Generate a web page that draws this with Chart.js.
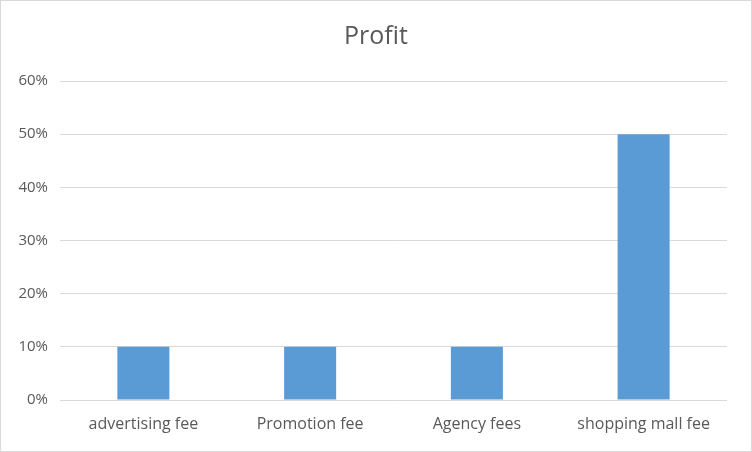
<!DOCTYPE html>
<html>
<head>
    <title>Profit</title>
    <script src="https://cdn.jsdelivr.net/npm/chart.js"></script>
    <style>
        body {
            margin: 0;
            background: #ffffff;
        }
        #chartContainer {
            width: 750px;
            height: 450px;
            border: 1px solid #d9d9d9;
            position: relative;
        }
    </style>
</head>
<body>
    <div id="chartContainer">
        <canvas id="myChart"></canvas>
    </div>

    <script>
        // Chart data
        const categories = ['advertising fee', 'Promotion fee', 'Agency fees', 'shopping mall fee'];
        const profit = [0.10, 0.10, 0.10, 0.50];
        const yTicks = [0, 0.1, 0.2, 0.3, 0.4, 0.5, 0.6];

        const textColor = '#595959';
        const fontFamily = "'Open Sans', 'Noto Sans', sans-serif";

        const ctx = document.getElementById('myChart').getContext('2d');
        new Chart(ctx, {
            type: 'bar',
            data: {
                labels: categories,
                datasets: [{
                    label: 'Profit',
                    data: profit,
                    backgroundColor: '#5b9bd5',
                    categoryPercentage: 1,
                    barPercentage: 0.312
                }]
            },
            options: {
                responsive: true,
                maintainAspectRatio: false,
                animation: false,
                layout: {
                    padding: 0
                },
                plugins: {
                    legend: { display: false },
                    tooltip: { enabled: false },
                    title: {
                        display: true,
                        text: 'Profit',
                        color: textColor,
                        font: { family: fontFamily, size: 25, weight: 'normal' },
                        padding: { top: 21, bottom: 29 }
                    }
                },
                scales: {
                    x: {
                        grid: { display: false, drawTicks: false },
                        border: { display: false },
                        ticks: {
                            color: textColor,
                            font: { family: fontFamily, size: 16 },
                            padding: 15
                        },
                        afterFit: function(scale) { scale.height = 51; }
                    },
                    y: {
                        min: 0,
                        max: 0.6,
                        afterBuildTicks: function(scale) {
                            scale.ticks = yTicks.map(v => ({ value: v }));
                        },
                        grid: { color: '#d9d9d9', lineWidth: 1, drawTicks: false },
                        border: { display: false },
                        ticks: {
                            color: textColor,
                            font: { family: fontFamily, size: 15 },
                            padding: 12,
                            callback: function(value) {
                                return Math.round(value * 100) + '%';
                            }
                        },
                        afterFit: function(scale) { scale.width = 59; }
                    },
                    // empty right axis just to reserve the right margin
                    yRight: {
                        position: 'right',
                        display: true,
                        grid: { display: false, drawTicks: false },
                        border: { display: false },
                        ticks: { display: false },
                        afterFit: function(scale) { scale.width = 24; }
                    }
                }
            }
        });
    </script>
</body>
</html>
